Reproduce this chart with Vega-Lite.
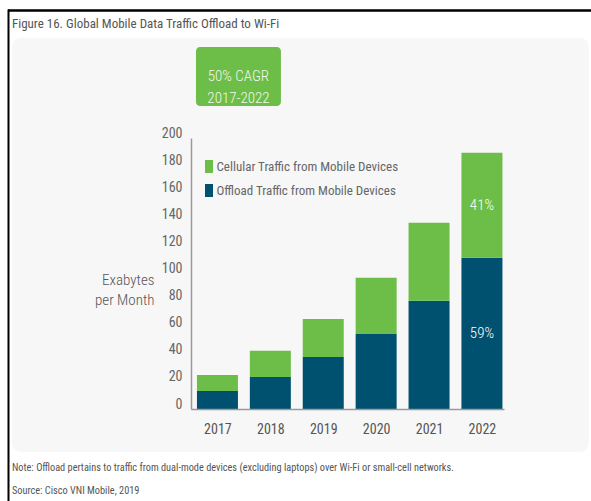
{
  "$schema": "https://vega.github.io/schema/vega-lite/v6.json",
  "width": 313,
  "height": 271,
  "autosize": {"type": "none"},
  "padding": {"left": 191, "top": 138, "right": 87, "bottom": 92},
  "background": "white",
  "config": {
    "view": {"stroke": null},
    "font": "Roboto Condensed, DejaVu Sans Condensed, Roboto"
  },
  "resolve": {"axis": {"x": "independent", "y": "independent"}},
  "data": {
    "values": [
      {"year": 2017, "series": "Offload Traffic from Mobile Devices", "value": 13.3, "pct": ""},
      {"year": 2017, "series": "Cellular Traffic from Mobile Devices", "value": 11.8, "pct": ""},
      {"year": 2018, "series": "Offload Traffic from Mobile Devices", "value": 23.6, "pct": ""},
      {"year": 2018, "series": "Cellular Traffic from Mobile Devices", "value": 19.3, "pct": ""},
      {"year": 2019, "series": "Offload Traffic from Mobile Devices", "value": 38.4, "pct": ""},
      {"year": 2019, "series": "Cellular Traffic from Mobile Devices", "value": 28.1, "pct": ""},
      {"year": 2020, "series": "Offload Traffic from Mobile Devices", "value": 55.4, "pct": ""},
      {"year": 2020, "series": "Cellular Traffic from Mobile Devices", "value": 41.4, "pct": ""},
      {"year": 2021, "series": "Offload Traffic from Mobile Devices", "value": 79.8, "pct": ""},
      {"year": 2021, "series": "Cellular Traffic from Mobile Devices", "value": 57.6, "pct": ""},
      {"year": 2022, "series": "Offload Traffic from Mobile Devices", "value": 111.6, "pct": "59%"},
      {"year": 2022, "series": "Cellular Traffic from Mobile Devices", "value": 77.5, "pct": "41%"}
    ]
  },
  "layer": [
    {
      "data": {"values": [{}]},
      "mark": {"type": "rect", "fill": "#f7f7f7", "cornerRadius": 9},
      "encoding": {
        "x": {"datum": 2013.115, "type": "quantitative", "axis": null},
        "x2": {"datum": 2024.02},
        "y": {"datum": 273.8, "type": "quantitative", "axis": null},
        "y2": {"datum": -31.7}
      }
    },
    {
      "data": {"values": [{}]},
      "mark": {"type": "rule", "color": "#000000", "strokeWidth": 2.5},
      "encoding": {
        "x": {"datum": 2013.04, "type": "quantitative", "axis": null},
        "x2": {"datum": 2024.1},
        "y": {"datum": 294.1, "type": "quantitative", "axis": null}
      }
    },
    {
      "data": {"values": [{}]},
      "mark": {"type": "rule", "color": "#000000", "strokeWidth": 2},
      "encoding": {
        "x": {"datum": 2013.05, "type": "quantitative", "axis": null},
        "y": {"datum": 294.8, "type": "quantitative", "axis": null},
        "y2": {"datum": -70}
      }
    },
    {
      "data": {"values": [{}]},
      "mark": {"type": "text", "text": "Figure 16.  Global Mobile Data Traffic Offload to Wi-Fi", "align": "left", "baseline": "middle", "fontSize": 13, "fill": "#555555"},
      "encoding": {
        "x": {"datum": 2013.115, "type": "quantitative", "axis": null},
        "y": {"datum": 284.5, "type": "quantitative", "axis": null}
      }
    },
    {
      "data": {"values": [{}]},
      "mark": {"type": "rect", "fill": "#6cbe48", "cornerRadius": 4},
      "encoding": {
        "x": {"datum": 2016.594, "type": "quantitative", "axis": null},
        "x2": {"datum": 2018.2},
        "y": {"datum": 267.2, "type": "quantitative", "axis": null},
        "y2": {"datum": 223.6}
      }
    },
    {
      "data": {"values": [{}]},
      "mark": {"type": "text", "text": ["50% CAGR", "2017-2022"], "align": "center", "baseline": "middle", "fontSize": 15, "fontWeight": 300, "lineHeight": 22, "fill": "#f2f7ee"},
      "encoding": {
        "x": {"datum": 2017.397, "type": "quantitative", "axis": null},
        "y": {"datum": 246.1, "type": "quantitative", "axis": null}
      }
    },
    {
      "data": {"values": [{}]},
      "mark": {"type": "text", "text": "Note: Offload pertains to traffic from dual-mode devices (excluding laptops) over Wi-Fi or small-cell networks.", "align": "left", "baseline": "middle", "fontSize": 10.3, "fill": "#555555"},
      "encoding": {
        "x": {"datum": 2013.115, "type": "quantitative", "axis": null},
        "y": {"datum": -43.5, "type": "quantitative", "axis": null}
      }
    },
    {
      "data": {"values": [{}]},
      "mark": {"type": "text", "text": "Source: Cisco VNI Mobile, 2019", "align": "left", "baseline": "middle", "fontSize": 10.3, "fill": "#555555"},
      "encoding": {
        "x": {"datum": 2013.115, "type": "quantitative", "axis": null},
        "y": {"datum": -60.5, "type": "quantitative", "axis": null}
      }
    },
    {
      "mark": {"type": "bar", "width": 41, "orient": "vertical"},
      "encoding": {
        "x": {
          "field": "year", "type": "quantitative",
          "scale": {"domain": [2016.5, 2022.417], "nice": false, "zero": false, "padding": 0},
          "axis": {"values": [2017, 2018, 2019, 2020, 2021, 2022], "format": "d", "title": null, "grid": false, "ticks": false, "domainColor": "#9a9a9a", "domainWidth": 1.5, "labelFontSize": 14, "labelColor": "#555555", "labelPadding": 13, "labelFlush": false, "labelOverlap": false, "zindex": 1}
        },
        "y": {
          "field": "value", "type": "quantitative", "stack": "zero",
          "scale": {"domain": [0, 200], "nice": false, "padding": 0},
          "axis": {"values": [0, 20, 40, 60, 80, 100, 120, 140, 160, 180, 200], "title": ["Exabytes", "per Month"], "titleAngle": 0, "titleAlign": "right", "titleBaseline": "alphabetic", "titleX": -37, "titleY": 146, "titleFontSize": 15, "titleFontWeight": 300, "titleColor": "#555555", "titleLineHeight": 20, "grid": false, "ticks": false, "domainColor": "#9a9a9a", "domainWidth": 1.5, "labelFontSize": 14, "labelColor": "#666666", "labelPadding": 9, "labelOffset": -5, "labelFlush": false, "labelOverlap": false, "zindex": 1}
        },
        "color": {
          "field": "series", "type": "nominal",
          "scale": {"domain": ["Cellular Traffic from Mobile Devices", "Offload Traffic from Mobile Devices"], "range": ["#6cbe48", "#00506f"]},
          "legend": {"title": null, "orient": "none", "legendX": 11.5, "legendY": 22, "padding": 0, "symbolType": "M-0.62,-1H0.62V1H-0.62Z", "symbolSize": 169, "symbolStrokeWidth": 0, "labelFontSize": 13, "labelColor": "#666666", "labelOffset": 1, "labelLimit": 0, "rowPadding": 10}
        },
        "order": {"field": "series", "sort": "descending"}
      }
    },
    {
      "mark": {"type": "text", "fill": "#ffffff", "fontSize": 15, "fontWeight": 300, "baseline": "middle", "align": "center"},
      "encoding": {
        "x": {"field": "year", "type": "quantitative", "axis": null},
        "y": {"field": "value", "type": "quantitative", "stack": "zero", "bandPosition": 0.5, "axis": null},
        "text": {"field": "pct"},
        "order": {"field": "series", "sort": "descending"}
      }
    }
  ]
}
